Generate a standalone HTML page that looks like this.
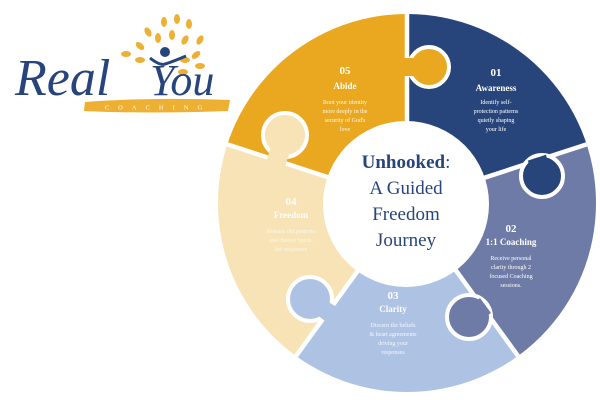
<!DOCTYPE html>
<html><head><meta charset="utf-8"><style>
html,body{margin:0;padding:0;background:#fff;width:600px;height:400px;overflow:hidden}
svg{display:block}
</style></head><body>
<svg width="600" height="400" viewBox="0 0 600 400" xmlns="http://www.w3.org/2000/svg">
<defs>
<clipPath id="c"><circle cx="407" cy="203" r="189"/></clipPath>
</defs>
<g clip-path="url(#c)">
  <g stroke="none">
  <path d="M407,203 L407,0 A203,203 0 0 1 600,140 Z" fill="#27457a"/>
  <path d="M407,203 L600,140 A203,203 0 0 1 526,367 Z" fill="#6e7ba6"/>
  <path d="M407,203 L526,367 A203,203 0 0 1 288,367 Z" fill="#aec3e4"/>
  <path d="M407,203 L288,367 A203,203 0 0 1 214,140 Z" fill="#f7e3b5"/>
  <path d="M407,203 L214,140 A203,203 0 0 1 407,0 Z" fill="#e9a820"/>
  </g>
  <g stroke="#fff" stroke-width="4.5">
    <line x1="407" y1="203" x2="407" y2="0"/>
    <line x1="407" y1="203" x2="600" y2="140"/>
    <line x1="407" y1="203" x2="526" y2="367"/>
    <line x1="407" y1="203" x2="288" y2="367"/>
    <line x1="407" y1="203" x2="214" y2="140"/>
  </g>
  <g stroke="#fff" stroke-width="4">
    <circle cx="429" cy="67" r="20" fill="#e9a820"/>
    <circle cx="542" cy="176" r="21" fill="#27457a"/>
    <circle cx="469" cy="317" r="22" fill="#6e7ba6"/>
    <circle cx="310" cy="299" r="22" fill="#aec3e4"/>
    <circle cx="285" cy="135" r="22" fill="#f7e3b5"/>
  </g>
  <g stroke="none">
    <polygon points="403,58 403,76 429,76 429,58" fill="#e9a820"/>
    <polygon points="546,154.7 527.8,160.6 534.3,178.5 550.5,173.1" fill="#27457a"/>
    <polygon points="491,313 480,298 464,311 474,324" fill="#6e7ba6"/>
    <polygon points="325,321 335.5,306.5 314.5,292.8 305,305.8" fill="#aec3e4"/>
    <polygon points="266.5,160.6 285,166.6 294,138 276,132" fill="#f7e3b5"/>
  </g>
</g>
<circle cx="406" cy="204" r="83" fill="#fff"/>

<g font-family="'Liberation Serif',serif" fill="#27457a" text-anchor="middle">
  <text x="406" y="168" font-size="19" font-weight="bold">Unhooked<tspan font-weight="normal">:</tspan></text>
  <text x="406" y="194" font-size="19">A Guided</text>
  <text x="406" y="220" font-size="19">Freedom</text>
  <text x="406" y="246" font-size="19">Journey</text>
</g>

<g font-family="'Liberation Serif',serif" fill="#fff" text-anchor="middle">
  <text x="345" y="74" font-size="11" font-weight="bold">05</text>
  <text x="345" y="89" font-size="9" font-weight="bold">Abide</text>
  <g font-size="6" opacity="0.9"><text x="345" y="104">Root your identity</text><text x="345" y="113">more deeply in the</text><text x="345" y="122">security of God's</text><text x="345" y="131">love</text></g>

  <text x="496" y="76" font-size="11" font-weight="bold">01</text>
  <text x="496" y="91" font-size="9" font-weight="bold">Awareness</text>
  <g font-size="6"><text x="496" y="104">Identify self-</text><text x="496" y="113">protection patterns</text><text x="496" y="122">quietly shaping</text><text x="496" y="131">your life</text></g>

  <text x="511" y="232" font-size="11" font-weight="bold">02</text>
  <text x="511" y="245" font-size="9" font-weight="bold">1:1 Coaching</text>
  <g font-size="6"><text x="511" y="260">Receive personal</text><text x="511" y="269">clarity through 2</text><text x="511" y="278">focused Coaching</text><text x="511" y="287">sessions.</text></g>

  <text x="393" y="299" font-size="11" font-weight="bold">03</text>
  <text x="393" y="312" font-size="9" font-weight="bold">Clarity</text>
  <g font-size="6" opacity="0.85"><text x="393" y="327">Discern the beliefs</text><text x="393" y="336">&amp; heart agreements</text><text x="393" y="345">driving your</text><text x="393" y="354">responses</text></g>

  <text x="291" y="205" font-size="11" font-weight="bold" opacity="0.9">04</text>
  <text x="291" y="218" font-size="9" font-weight="bold" opacity="0.9">Freedom</text>
  <g font-size="6" opacity="0.7"><text x="291" y="233">Release old patterns</text><text x="291" y="242">and choose Spirit-</text><text x="291" y="251">led responses</text></g>
</g>

<!-- logo -->
<path d="M85,102 Q150,97 230,100 L228,111 Q150,114 84,111 Z" fill="#edb032"/>
<text x="158" y="109.5" font-family="'Liberation Serif',serif" font-size="6.5" letter-spacing="9" fill="#fff" text-anchor="middle">COACHING</text>
<g fill="#edb032">
  <ellipse cx="164" cy="22" rx="3" ry="5"/>
  <ellipse cx="177" cy="19" rx="3" ry="5"/>
  <ellipse cx="189" cy="24" rx="3" ry="5"/>
  <ellipse cx="148" cy="32" rx="3" ry="5" transform="rotate(-30 148 32)"/>
  <ellipse cx="158" cy="38" rx="3" ry="5"/>
  <ellipse cx="172" cy="35" rx="3" ry="5"/>
  <ellipse cx="185" cy="40" rx="3" ry="5" transform="rotate(30 185 40)"/>
  <ellipse cx="200" cy="40" rx="3" ry="5" transform="rotate(30 200 40)"/>
  <ellipse cx="140" cy="46" rx="3" ry="5" transform="rotate(-50 140 46)"/>
  <ellipse cx="196" cy="55" rx="3" ry="5" transform="rotate(50 196 55)"/>
  <ellipse cx="126" cy="54" rx="5" ry="3"/>
  <ellipse cx="140" cy="60" rx="5" ry="3"/>
  <ellipse cx="185" cy="60" rx="5" ry="3"/>
  <ellipse cx="200" cy="66" rx="5" ry="3"/>
  <ellipse cx="183" cy="72" rx="5" ry="3"/>
</g>
<circle cx="165" cy="52" r="5" fill="#27457a"/>
<path d="M150,58 Q160,66 165,64 Q172,62 186,56" stroke="#27457a" stroke-width="3" fill="none"/>
<text x="15" y="95" font-family="'Liberation Serif',serif" font-style="italic" font-size="52" fill="#27457a">Real</text>
<text x="150" y="95" font-family="'Liberation Serif',serif" font-style="italic" font-size="44" fill="#27457a">You</text>
</svg>
</body></html>
